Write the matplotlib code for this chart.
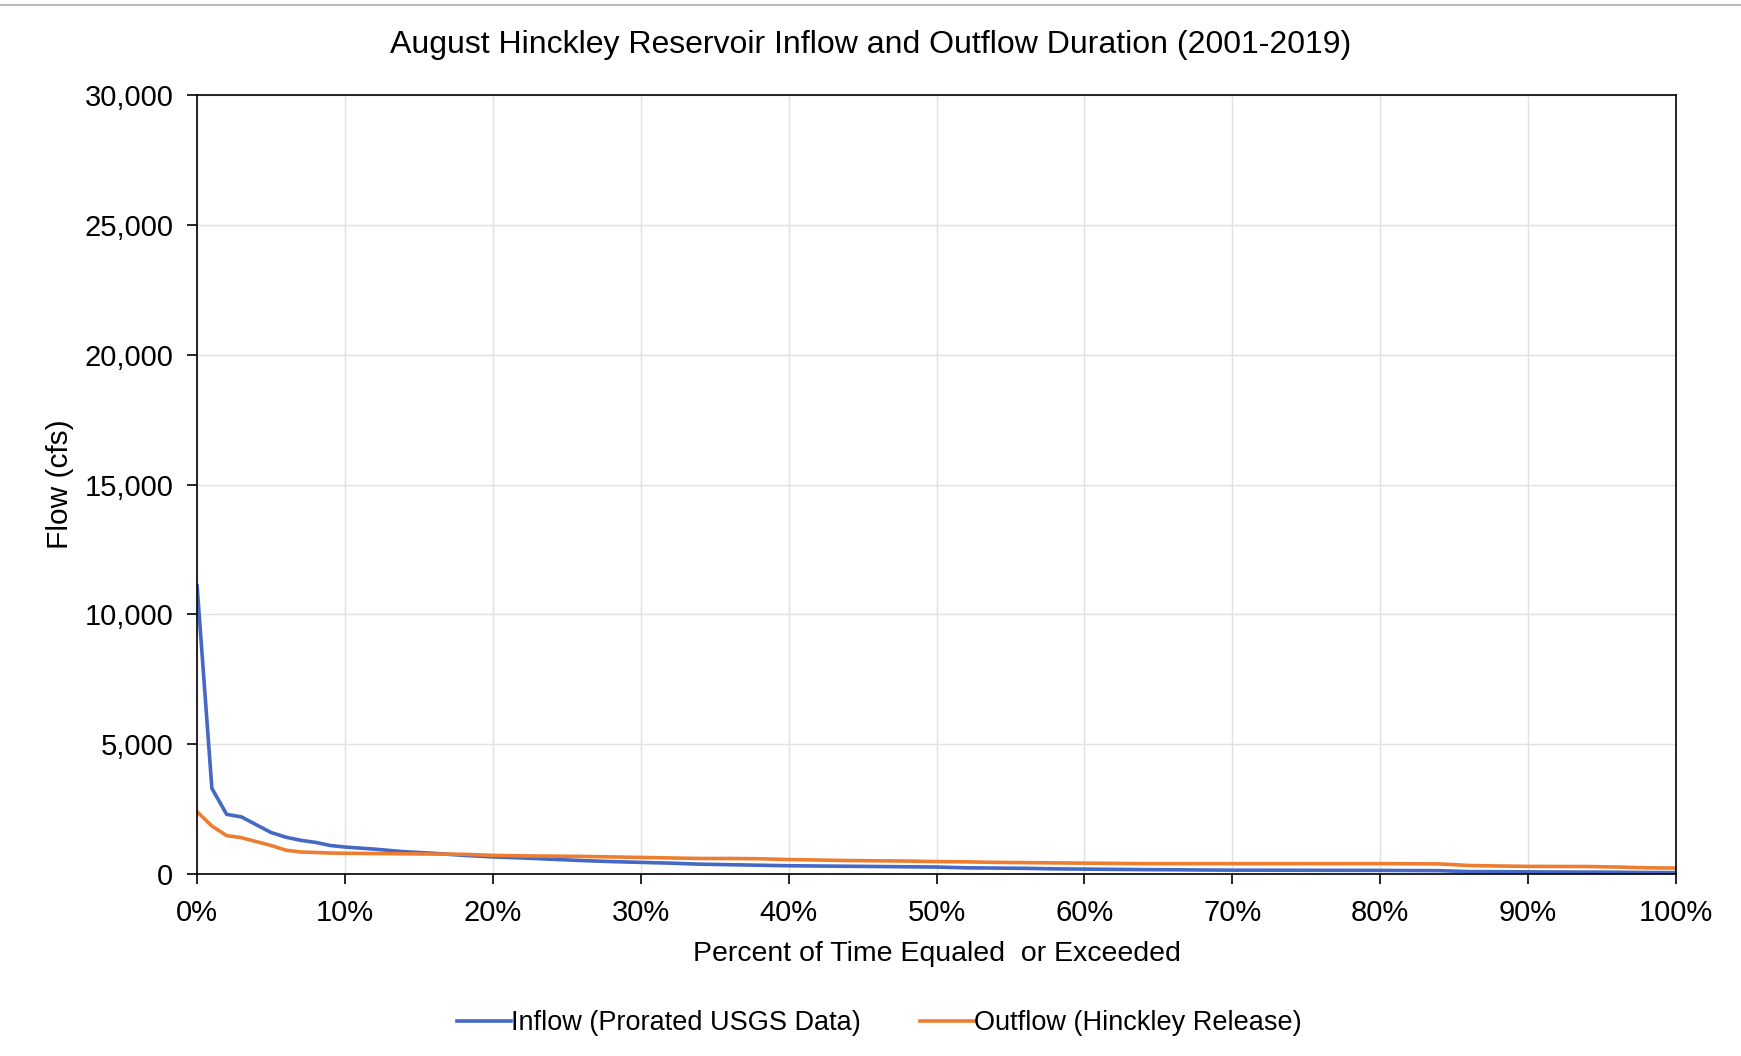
import numpy as np
import matplotlib
matplotlib.use("Agg")
import matplotlib.pyplot as plt
from matplotlib.lines import Line2D
from matplotlib.ticker import FuncFormatter, MultipleLocator

plt.rcParams['font.family'] = ['Liberation Sans', 'DejaVu Sans']

# percent of time equaled or exceeded
pct = [0, 1, 2, 3, 4, 5, 6, 7, 8, 9, 10, 12, 14, 16, 18, 20, 22, 24, 26, 28,
       30, 32, 34, 36, 38, 40, 42, 44, 46, 48, 50, 52, 54, 56, 58, 60, 62, 64,
       66, 68, 70, 75, 80, 84, 86, 88, 90, 92, 94, 96, 98, 100]

inflow = [11100, 3300, 2300, 2200, 1900, 1600, 1420, 1300, 1220, 1100, 1040,
          960, 860, 800, 720, 660, 620, 570, 520, 480, 450, 420, 380, 360, 340,
          320, 310, 300, 290, 280, 270, 240, 230, 220, 200, 190, 180, 170, 165,
          155, 150, 145, 140, 130, 95, 90, 85, 80, 75, 70, 60, 55]

outflow = [2400, 1850, 1480, 1400, 1250, 1100, 920, 850, 830, 810, 800,
           790, 780, 770, 760, 720, 700, 690, 680, 660, 640, 620, 600, 600, 590,
           560, 540, 520, 510, 500, 480, 470, 450, 440, 430, 420, 410, 400, 400,
           400, 400, 400, 400, 390, 330, 310, 295, 292, 290, 270, 240, 230]

fig = plt.figure(figsize=(17.41, 10.56), dpi=100)
ax = fig.add_axes([0.1132, 0.1723, 0.8495, 0.7377])

ax.plot(pct, inflow, color='#4468c4', lw=2.6, label='Inflow (Prorated USGS Data)')
ax.plot(pct, outflow, color='#ed7d31', lw=2.6, label='Outflow (Hinckley Release)')

ax.set_xlim(0, 100)
ax.set_ylim(0, 30000)
ax.xaxis.set_major_locator(MultipleLocator(10))
ax.yaxis.set_major_locator(MultipleLocator(5000))
ax.xaxis.set_major_formatter(FuncFormatter(lambda v, p: f"{v:.0f}%"))
ax.yaxis.set_major_formatter(FuncFormatter(lambda v, p: f"{v:,.0f}"))
ax.grid(True, color='#e0e0e0', lw=1.0)
ax.set_axisbelow(True)
for s in ax.spines.values():
    s.set_color('black')
    s.set_linewidth(1.2)
ax.tick_params(direction='out', length=7, width=1.2, labelsize=21)
ax.tick_params(axis='x', pad=11)
ax.tick_params(axis='y', pad=10)

fig.suptitle('August Hinckley Reservoir Inflow and Outflow Duration (2001-2019)',
             fontsize=23, x=0.5, y=0.957, va='center')
ax.set_xlabel('Percent of Time Equaled  or Exceeded', fontsize=20.5, labelpad=10)
ax.set_ylabel('Flow (cfs)', fontsize=21.5)
ax.yaxis.set_label_coords(-0.083, 0.5)

fig.legend(loc='center', bbox_to_anchor=(0.505, 0.031), ncol=2, frameon=False,
           fontsize=19.5, handlelength=2.0, handletextpad=0.0, columnspacing=2.2)

fig.add_artist(Line2D([0, 1], [0.995, 0.995], color='#bbbbbb', lw=1.5,
                      transform=fig.transFigure))

fig.savefig('out.png', dpi=100, facecolor='white')
